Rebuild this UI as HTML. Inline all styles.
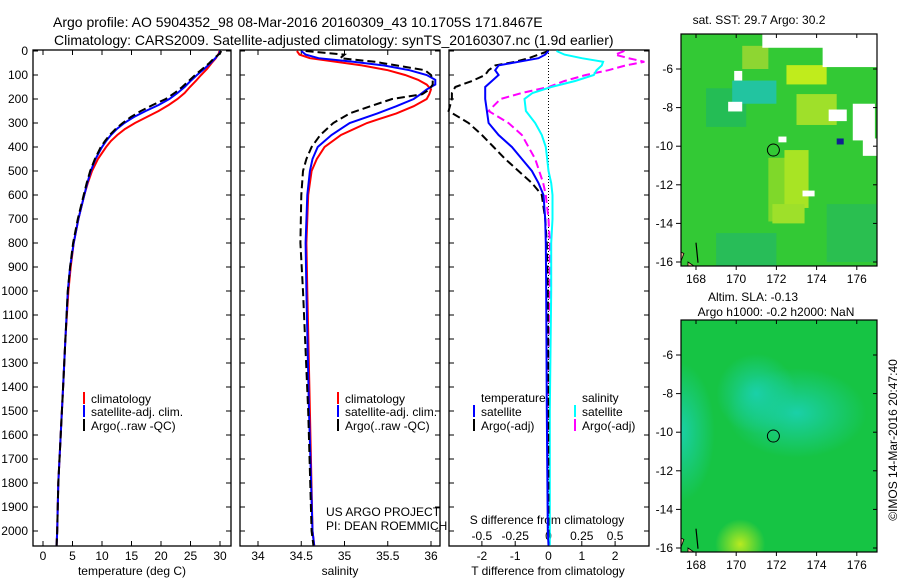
<!DOCTYPE html>
<html><head><meta charset="utf-8"><style>
body{margin:0;background:#fff}
svg{display:block;font-family:"Liberation Sans",sans-serif;font-size:12px}
</style></head><body>
<svg id="c" width="900" height="580" viewBox="0 0 900 580">
<g id="g"></g>
</svg>
<script>
// ---- data ----
const tDepth = [0,10,30,50,75,100,125,150,175,200,225,250,275,300,325,350,375,400,450,500,550,600,700,800,900,1000,1200,1400,1600,1800,2000,2060];
const tClim  = [29.9,29.8,29.3,28.6,27.8,26.8,25.9,24.9,24.0,22.8,21.3,19.6,17.6,15.6,13.9,12.6,11.5,10.7,9.3,8.3,7.6,7.0,6.0,5.2,4.7,4.3,3.8,3.4,3.0,2.6,2.4,2.3];
const tSat   = [30.0,29.9,29.2,28.4,27.3,26.1,25.0,24.0,22.8,21.4,19.6,17.4,15.4,13.8,12.5,11.5,10.7,10.0,8.9,8.1,7.5,7.0,6.0,5.2,4.6,4.2,3.8,3.4,3.0,2.6,2.4,2.3];
const tArgo  = [30.2,30.0,29.0,28.2,27.0,25.8,24.7,23.6,22.3,20.8,18.6,16.6,14.9,13.5,12.3,11.3,10.5,9.8,8.8,8.0,7.4,6.9,5.9,5.1,4.6,4.2,3.8,3.4,3.0,2.6,2.4,2.3];
const sDepth = [0,15,30,45,60,80,100,120,140,160,180,200,230,260,300,350,400,450,500,600,800,1000,1500,2000,2060];
const sClim  = [34.45,34.48,34.6,34.9,35.2,35.5,35.7,35.85,35.95,36.0,35.98,35.95,35.8,35.6,35.26,34.96,34.77,34.68,34.62,34.58,34.56,34.57,34.6,34.63,34.65];
const sSat   = [34.5,34.55,34.7,35.1,35.45,35.75,35.95,36.05,36.05,35.95,35.88,35.8,35.6,35.38,35.06,34.85,34.69,34.63,34.6,34.57,34.55,34.56,34.59,34.63,34.65];
const sArgo  = [34.55,35.0,34.95,35.35,35.6,35.93,36.0,36.02,36.02,35.98,35.9,35.55,35.3,35.06,34.87,34.72,34.62,34.56,34.52,34.5,34.49,34.52,34.58,34.62,34.64];
const dDepth = [0,15,30,45,60,80,100,125,150,175,200,250,300,350,400,450,500,550,600,700,800,1000,1500,2000,2060];
const dTSat  = [0,-0.1,-0.3,-0.9,-1.5,-1.6,-1.5,-1.7,-1.9,-1.9,-1.9,-1.85,-1.8,-1.5,-1.1,-0.8,-0.5,-0.3,-0.15,-0.1,-0.08,-0.07,-0.05,-0.02,0];
const dTArgo = [0,-0.3,-0.6,-1.0,-1.6,-1.8,-1.9,-2.3,-2.8,-2.9,-2.9,-3.0,-2.4,-2.0,-1.65,-1.3,-0.9,-0.5,-0.2,-0.1,-0.05,-0.02,-0.01,0,0];
const dSSat  = [0.06,0.12,0.25,0.41,0.40,0.36,0.34,0.2,0.02,-0.12,-0.18,-0.17,-0.1,-0.05,-0.02,-0.01,0,0.02,0.03,0.03,0.02,0.02,0.01,0.01,0.01];
const dSArgo = [0.57,0.5,0.6,0.72,0.58,0.45,0.28,0.12,0,-0.2,-0.36,-0.45,-0.3,-0.2,-0.15,-0.1,-0.07,-0.04,-0.02,0,0.01,0.01,0,0,0];
const depthTicks = [0,100,200,300,400,500,600,700,800,900,1000,1100,1200,1300,1400,1500,1600,1700,1800,1900,2000];
const tTicks = [0,5,10,15,20,25,30];
const sTicks = [34,34.5,35,35.5,36];
const sTickLabels = ["34","34.5","35","35.5","36"];
const dTicks = [-2,-1,0,1,2];
const dsTicks = [-0.5,-0.25,0,0.25,0.5];
const dsTickLabels = ["-0.5","-0.25","0","0.25","0.5"];
const latTicks = [-6,-8,-10,-12,-14,-16];
const lonTicks = [168,170,172,174,176];
const argoLon = 171.85, argoLat = -10.2;

// ---- scales ----
const Y = d => 51 + d*0.24;
const XT = v => 43 + v*5.9;
const XS = v => 258 + (v-34)*86.5;
const XD = v => 548.5 + v*33.3;
const XDS = v => 548.5 + v*133.2;
const mapLon = v => 696 + (v-168)*20.1;
const latTop = v => 69 + (-6-v)*19.3;
const latBot = v => 355 + (-6-v)*19.3;

const NS="http://www.w3.org/2000/svg", G=document.getElementById('g');
function mk(tag, attrs, parent){const e=document.createElementNS(NS,tag);for(const k in attrs)e.setAttribute(k,attrs[k]);(parent||G).appendChild(e);return e;}
function txt(x,y,s,anchor,size){const e=mk('text',{x:x,y:y,'text-anchor':anchor||'start','font-size':size||12});e.textContent=s;return e;}
function line(ds,vs,fx,color,dash,name){
  let p='';for(let i=0;i<vs.length;i++)p+=(i?'L':'M')+fx(vs[i]).toFixed(1)+','+Y(ds[i]).toFixed(1);
  const e=mk('path',{d:p,fill:'none',stroke:color,'stroke-width':2});
  if(dash)e.setAttribute('stroke-dasharray',dash);
  
  
}

// titles
let t=txt(53,27,"Argo profile: AO 5904352_98 08-Mar-2016 20160309_43 10.1705S 171.8467E",'start',14);


t=txt(54,45,"Climatology: CARS2009. Satellite-adjusted climatology: synTS_20160307.nc (1.9d earlier)",'start',14);



// panels
const panels=[[33,231,'temperature-panel'],[240,440,'salinity-panel'],[449,649,'difference-panel']];
panels.forEach(p=>{
  const r=mk('rect',{x:p[0],y:50,width:p[1]-p[0],height:496,fill:'none',stroke:'#000','stroke-width':1.3});
  
  
  depthTicks.forEach(d=>{mk('line',{x1:p[0],x2:p[0]+5,y1:Y(d),y2:Y(d),stroke:'#000'});mk('line',{x1:p[1]-5,x2:p[1],y1:Y(d),y2:Y(d),stroke:'#000'});});
});
depthTicks.forEach(d=>{const e=txt(28,Y(d)+4,String(d),'end');
  
  });
tTicks.forEach(v=>{mk('line',{x1:XT(v),x2:XT(v),y1:541,y2:546,stroke:'#000'});mk('line',{x1:XT(v),x2:XT(v),y1:50,y2:55,stroke:'#000'});
  const e=txt(XT(v),560,String(v),'middle');
  
  });
sTicks.forEach((v,i)=>{mk('line',{x1:XS(v),x2:XS(v),y1:541,y2:546,stroke:'#000'});mk('line',{x1:XS(v),x2:XS(v),y1:50,y2:55,stroke:'#000'});
  const e=txt(XS(v),560,sTickLabels[i],'middle');
  
  });
dTicks.forEach(v=>{mk('line',{x1:XD(v),x2:XD(v),y1:541,y2:546,stroke:'#000'});
  const e=txt(XD(v),560,String(v),'middle');
  
  });
dsTicks.forEach((v,i)=>{const e=txt(XDS(v),540,dsTickLabels[i],'middle');
  
  });
[[132,'temperature (deg C)','x-axis-title-temperature'],[340,'salinity','x-axis-title-salinity'],[548,'T difference from climatology','x-axis-title-tdiff']].forEach(a=>{
  const e=txt(a[0],575,a[1],'middle');
  
  });
t=txt(547,524,"S difference from climatology",'middle');


mk('line',{x1:XD(0),x2:XD(0),y1:50,y2:546,stroke:'#000','stroke-dasharray':'1,2','stroke-width':1});

// series
line(tDepth,tClim,XT,'#f00',null,'temperature-climatology-line');
line(tDepth,tSat,XT,'#00f',null,'temperature-satellite-line');
line(tDepth,tArgo,XT,'#000','8,4','temperature-argo-line');
line(sDepth,sClim,XS,'#f00',null,'salinity-climatology-line');
line(sDepth,sSat,XS,'#00f',null,'salinity-satellite-line');
line(sDepth,sArgo,XS,'#000','8,4','salinity-argo-line');
line(dDepth,dSArgo,XDS,'#f0f','8,4','sdiff-argo-line');
line(dDepth,dSSat,XDS,'#0ff',null,'sdiff-satellite-line');
line(dDepth,dTArgo,XD,'#000','8,4','tdiff-argo-line');
line(dDepth,dTSat,XD,'#00f',null,'tdiff-satellite-line');

// legends
function leg(x,y,c,s,name){mk('line',{x1:x,x2:x,y1:y-6,y2:y+6,stroke:c,'stroke-width':2});const e=txt(x+7,y+5,s);
  
  }
[[84,'temp'],[338,'sal']].forEach(p=>{
  leg(p[0],398,'#f00','climatology',p[1]+'-legend-climatology');
  leg(p[0],411,'#00f','satellite-adj. clim.',p[1]+'-legend-satellite');
  leg(p[0],425,'#000','Argo(..raw -QC)',p[1]+'-legend-argo');
});
t=txt(481,402,'temperature');
t=txt(582,402,'salinity');
leg(474,411,'#00f','satellite','tdiff-legend-satellite');
leg(474,425,'#000','Argo(-adj)','tdiff-legend-argo');
leg(575,411,'#0ff','satellite','sdiff-legend-satellite');
leg(575,425,'#f0f','Argo(-adj)','sdiff-legend-argo');
t=txt(326,516,'US ARGO PROJECT');
t=txt(326,530,'PI: DEAN ROEMMICH');

// maps
function map(top,bot,latF,kind){
  const x0=681,x1=877;
  const defs=mk('defs',{});
  const cp=mk('clipPath',{id:'cp'+kind},defs);mk('rect',{x:x0,y:top,width:x1-x0,height:bot-top},cp);
  const g=mk('g',{'clip-path':'url(#cp'+kind+')'});
  
  
  if(kind==='sst'){
    mk('rect',{x:x0,y:top,width:x1-x0,height:bot-top,fill:'#33c935'},g);
    const pts=[[168.5,-7,2,2,'#24bd55'],[169,-14.5,3,2,'#28bd58'],[169.8,-6.6,2.2,1.2,'#22c4a0'],[171.6,-10.6,1.8,3.3,'#7fd82a'],[172.4,-10.2,1.2,3,'#a8e424'],[171.8,-13,1.6,1,'#9ee02a'],[173,-7.3,2,1.6,'#9fe02a'],[172.5,-5.8,2,1,'#c0ec1c'],[170.3,-4.8,1.3,1.2,'#8ed632'],[174.5,-13,2.5,3,'#2abf50']];
    pts.forEach(p=>mk('rect',{x:mapLon(p[0]),y:latF(p[1]),width:p[2]*20.1,height:p[3]*19.3,fill:p[4]},g));
    const wh=[[171.3,-4.0,5.8,0.9],[174.3,-4.8,2.8,1.1],[175.8,-7.8,1.1,1.9],[174.6,-8.1,0.9,0.6],[169.6,-7.7,0.7,0.5],[173.3,-12.3,0.6,0.3],[169.9,-6.1,0.4,0.5],[172.1,-9.5,0.4,0.3],[176.3,-9.6,0.7,0.9]];
    wh.forEach(p=>mk('rect',{x:mapLon(p[0]),y:latF(p[1]),width:p[2]*20.1,height:p[3]*19.3,fill:'#fff'},g));
    mk('rect',{x:mapLon(175),y:latF(-9.6),width:7,height:6,fill:'#102090'},g);
  } else {
    const rg=mk('radialGradient',{id:'rg1'},defs);mk('stop',{offset:'0','stop-color':'#1ad0a8'},rg);mk('stop',{offset:'1','stop-color':'#1ad0a8','stop-opacity':0},rg);
    const rg2=mk('radialGradient',{id:'rg2'},defs);mk('stop',{offset:'0','stop-color':'#b8ea20'},rg2);mk('stop',{offset:'1','stop-color':'#b8ea20','stop-opacity':0},rg2);
    mk('rect',{x:x0,y:top,width:x1-x0,height:bot-top,fill:'#16c444'},g);
    mk('ellipse',{cx:mapLon(167.2),cy:latF(-10),rx:35,ry:70,fill:'url(#rg1)'},g);
    mk('ellipse',{cx:mapLon(173),cy:latF(-9),rx:70,ry:45,fill:'url(#rg1)'},g);
    mk('ellipse',{cx:mapLon(171),cy:latF(-8),rx:40,ry:40,fill:'url(#rg1)'},g);
    mk('ellipse',{cx:mapLon(170.2),cy:latF(-15.8),rx:25,ry:25,fill:'url(#rg2)'},g);
  }
  mk('path',{d:`M${mapLon(166.9)},${latF(-15.3)} l10,5 l-3,8 l-8,2 z M${mapLon(167.6)},${latF(-16)} l6,4 l-6,4 z`,fill:'#f5b890',stroke:'#000','stroke-width':0.8},g);
  mk('path',{d:`M${mapLon(168)},${latF(-15)} l2,20`,stroke:'#000','stroke-width':1.2,fill:'none'},g);
  const c=mk('circle',{cx:mapLon(argoLon),cy:latF(argoLat),r:6,fill:'none',stroke:'#000','stroke-width':1});
  
  
  mk('rect',{x:x0,y:top,width:x1-x0,height:bot-top,fill:'none',stroke:'#000','stroke-width':1.2});
  latTicks.forEach(v=>{mk('line',{x1:x0-5,x2:x0,y1:latF(v),y2:latF(v),stroke:'#000'});mk('line',{x1:x1-4,x2:x1,y1:latF(v),y2:latF(v),stroke:'#000'});
    const e=txt(673,latF(v)+4,String(v),'end');
    
    });
  lonTicks.forEach(v=>{mk('line',{x1:mapLon(v),x2:mapLon(v),y1:bot,y2:bot+4,stroke:'#000'});mk('line',{x1:mapLon(v),x2:mapLon(v),y1:top,y2:top+4,stroke:'#000'});
    const e=txt(mapLon(v),bot+17,String(v),'middle');
    
    });
}
map(34,266,latTop,'sst');
map(320,552,latBot,'sla');
t=txt(759,24,'sat. SST: 29.7 Argo: 30.2','middle');
t=txt(753,301,'Altim. SLA: -0.13','middle');
t=txt(776,316,'Argo h1000: -0.2 h2000: NaN','middle');
t=txt(0,0,'©IMOS 14-Mar-2016 20:47:40','middle');
t.setAttribute('transform','translate(897,440) rotate(-90)');

</script>
</body></html>
